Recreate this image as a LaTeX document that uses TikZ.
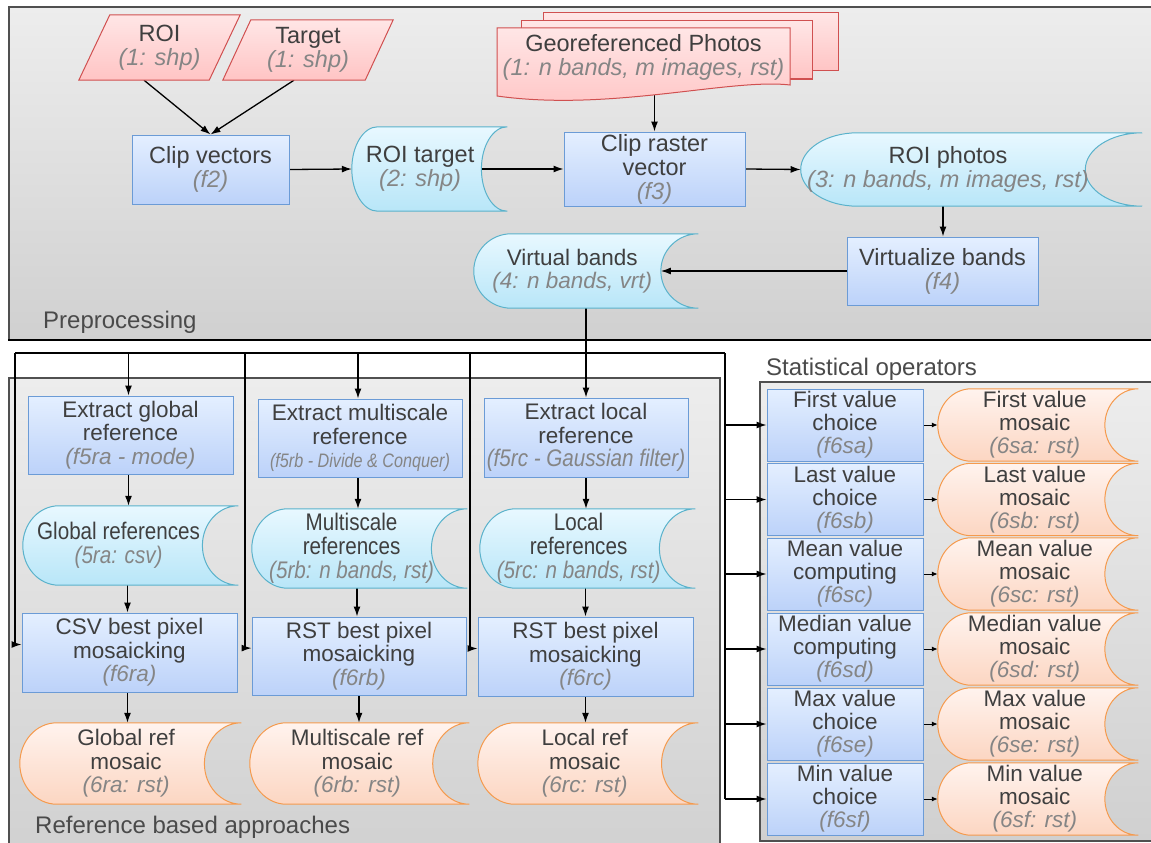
\documentclass[tikz,border=0pt]{standalone}
\usepackage{fontspec}
\setmainfont{Liberation Sans}
\usepackage{graphicx}
\usetikzlibrary{arrows.meta,calc}

\definecolor{txt}{HTML}{3F3F3F}
\definecolor{subtxt}{HTML}{858585}
\definecolor{lbltxt}{HTML}{4A4A4A}
\definecolor{panT}{HTML}{EDEDED}
\definecolor{panB}{HTML}{D0D0D0}
\definecolor{panline}{HTML}{505050}
\definecolor{procline}{HTML}{6B9BD6}
\definecolor{procT}{HTML}{E4EFFF}
\definecolor{procB}{HTML}{BCD2F9}
\definecolor{cyanline}{HTML}{5AB2CB}
\definecolor{cyanT}{HTML}{E8F8FF}
\definecolor{cyanB}{HTML}{B8E6F8}
\definecolor{orgline}{HTML}{F59A4D}
\definecolor{orgT}{HTML}{FFF3EE}
\definecolor{orgB}{HTML}{FCD6C2}
\definecolor{pinkline}{HTML}{D05050}
\definecolor{pinkT}{HTML}{FFE6E6}
\definecolor{pinkB}{HTML}{FFC4C4}

\pgfdeclarelayer{panel}
\pgfdeclarelayer{wires}
\pgfdeclarelayer{shapes}
\pgfsetlayers{panel,wires,shapes,main}

% function / format annotation under a title
\newcommand\fn[1]{{\color{subtxt}\itshape #1}}
% horizontally condensed text
\newcommand\cond[1]{\scalebox{0.86}[1]{#1}}
\newcommand\bigcond{\fontsize{24}{24}\selectfont}

% "stored data" outline: rounded left end, concave right end,
% drawn around a node whose width is the part left of the concave arc
\newcommand\sdshape[2]{%
  \path[#2] let \p1=(#1.north west), \p2=(#1.south east),
    \n1={(\x2-\x1)/5}, \n2={(\y1-\y2)/2} in
    (\x1+\n1,\y1) -- (\x2+\n1,\y1)
    arc[start angle=90,end angle=270,x radius=\n1,y radius=\n2]
    -- (\x1+\n1,\y2)
    arc[start angle=270,end angle=90,x radius=\n1,y radius=\n2] -- cycle;}

\begin{document}
\begin{tikzpicture}[x=1pt,y=-1pt,
  base/.style={align=center, text=txt, inner sep=0pt,
    font=\fontsize{22.5}{23.5}\selectfont},
  big/.style={font=\fontsize{23.5}{24}\selectfont},
  proc/.style={base, draw=procline, top color=procT, bottom color=procB, line width=1pt},
  textonly/.style={base},
  sdbox/.style={inner sep=0pt},
  cyanfill/.style={draw=cyanline, top color=cyanT, bottom color=cyanB, line width=1pt},
  orgfill/.style={draw=orgline, top color=orgT, bottom color=orgB, line width=1pt},
  pinkfill/.style={draw=pinkline, top color=pinkT, bottom color=pinkB, line width=1pt},
  lbl/.style={text=lbltxt, inner sep=0pt, font=\fontsize{24}{24}\selectfont},
  wire/.style={draw=black, line width=1.3pt},
  arr/.style={wire, -{Latex[length=10pt,width=7pt]}},
  sarr/.style={draw=black, line width=1pt, -{Latex[length=6pt,width=5pt]}},
]
\useasboundingbox (0,0) rectangle (1151,843);

% ---------- group panels ----------
\begin{pgfonlayer}{panel}
  \fill[white] (0,0) rectangle (1151,843);
  \shade[top color=panT, bottom color=panB] (9,7) rectangle (1170,340);
  \draw[panline, line width=1.4pt] (1170,7) -- (9,7) -- (9,340);
  \draw[black, line width=2pt] (8.3,340) -- (1170,340);
  \shade[top color=panT, bottom color=panB] (9,378) rectangle (720,870);
  \draw[panline, line width=1.3pt] (9,870) -- (9,378) -- (720,378) -- (720,870);
  \shade[top color=panT, bottom color=panB] (760,382) rectangle (1170,841);
  \draw[panline, line width=1.3pt] (1170,382) -- (760,382) -- (760,841) -- (1170,841);
\end{pgfonlayer}

% ---------- preprocessing ----------
\node[textonly, big, minimum width=130pt, minimum height=65pt] (roi) at (159.5,47.5) {ROI\\\fn{(1: shp)}};
\node[textonly, big, minimum width=142pt, minimum height=60pt] (tgt) at (308,50) {Target\\\fn{(1: shp)}};
\node[proc, big, minimum width=157pt, minimum height=69pt] (cv) at (210.5,169.5) {Clip vectors\\\fn{(f2)}};
\node[sdbox, minimum width=129.2pt, minimum height=84pt] (rt) at (416.6,169) {};
\node[textonly, big] (rtT) at ([xshift=3.5pt]rt.center) {ROI target\\\fn{(2: shp)}};
\node[textonly, big, minimum width=293pt, minimum height=58pt] (gp) at (643.5,57) {Georeferenced Photos\\\fn{(1: n bands, m images, rst)}};
\node[proc, big, minimum width=181pt, minimum height=74pt] (crv) at (654.5,169) {Clip raster\\vector\\\fn{(f3)}};
\node[sdbox, minimum width=284.2pt, minimum height=73pt] (rp) at (943,169.5) {};
\node[textonly, big] (rpT) at ([xshift=5pt]rp.center) {ROI photos\\\fn{(3: n bands, m images, rst)}};
\node[proc, big, minimum width=191pt, minimum height=68pt] (vz) at (942.5,271) {Virtualize bands\\\fn{(f4)}};
\node[sdbox, minimum width=186.7pt, minimum height=74pt] (vb) at (567.3,271) {};
\node[textonly] (vbT) at ([xshift=5pt]vb.center) {Virtual bands\\\fn{(4: n bands, vrt)}};

% ---------- reference based approaches ----------
\node[proc, minimum width=205pt, minimum height=78pt] (eg) at (130.5,435) {Extract global\\reference\\\fn{(f5ra - mode)}};
\node[sdbox, minimum width=179.2pt, minimum height=79pt] (gr) at (112.6,545.5) {};
\node[textonly, font=\bigcond] (grT) at ([xshift=6pt]gr.center) {\cond{Global references}\\\fn{\cond{(5ra: csv)}}};
\node[proc, minimum width=215pt, minimum height=79pt] (csv) at (129.5,652.5) {CSV best pixel\\mosaicking\\\fn{(f6ra)}};
\node[sdbox, minimum width=184.2pt, minimum height=81pt] (grm) at (112.1,763.5) {};
\node[textonly] (grmT) at ([xshift=14pt]grm.center) {Global ref\\mosaic\\\fn{(6ra: rst)}};

\node[proc, minimum width=204pt, minimum height=78pt] (em) at (360,438) {Extract multiscale\\reference\\{\fontsize{19.5}{21}\selectfont\fn{\scalebox{0.83}[1]{(f5rb - Divide \& Conquer)}}}};
\node[sdbox, minimum width=179.2pt, minimum height=79pt] (mr) at (341.6,548.5) {};
\node[textonly, font=\bigcond] (mrT) at ([xshift=10pt]mr.center) {\cond{Multiscale}\\\cond{references}\\\fn{\cond{(5rb: n bands, rst)}}};
\node[proc, minimum width=214pt, minimum height=78pt] (rstb) at (359,656) {RST best pixel\\mosaicking\\\fn{(f6rb)}};
\node[sdbox, minimum width=182.5pt, minimum height=81pt] (mm) at (341.25,763.5) {};
\node[textonly] (mmT) at ([xshift=16pt]mm.center) {Multiscale ref\\mosaic\\\fn{(6rb: rst)}};

\node[proc, minimum width=204pt, minimum height=79pt] (el) at (586,437.5) {Extract local\\reference\\{\bigcond\fn{\cond{(f5rc - Gaussian filter)}}}};
\node[sdbox, minimum width=179.2pt, minimum height=79pt] (lr) at (569.6,548.5) {};
\node[textonly, font=\bigcond] (lrT) at ([xshift=9pt]lr.center) {\cond{Local}\\\cond{references}\\\fn{\cond{(5rc: n bands, rst)}}};
\node[proc, minimum width=215pt, minimum height=79pt] (rstc) at (585.5,656.5) {RST best pixel\\mosaicking\\\fn{(f6rc)}};
\node[sdbox, minimum width=183.3pt, minimum height=81pt] (lm) at (569.7,763.5) {};
\node[textonly] (lmT) at ([xshift=15pt]lm.center) {Local ref\\mosaic\\\fn{(6rc: rst)}};

% ---------- statistical operators ----------
\foreach \nm/\yy/\ta/\tb/\code in {
    sa/425/First value/choice/sa,
    sb/499.5/Last value/choice/sb,
    sc/574/Mean value/computing/sc,
    sd/649/Median value/computing/sd,
    se/724/Max value/choice/se,
    sf/799/Min value/choice/sf}{
  \node[proc, font=\fontsize{22.5}{23}\selectfont, minimum width=156pt, minimum height=72pt]
    (\nm) at (845,\yy) {\ta\\\tb\\\fn{(f6\code)}};
  \node[sdbox, minimum width=166.7pt, minimum height=72pt] (\nm o) at (1021.3,\yy) {};
  \node[textonly, font=\fontsize{22.5}{23}\selectfont]
    (\nm oT) at ([xshift=13.5pt]\nm o.center) {\ta\\mosaic\\\fn{(6\code: rst)}};
}

% ---------- group titles ----------
\node[lbl, anchor=base west] (lpre) at (43,328) {Preprocessing};
\node[lbl, anchor=base west] (lref) at (35,833) {Reference based approaches};
\node[lbl, anchor=base west] (lstat) at (766,375) {Statistical operators};

% ---------- shapes behind the text nodes ----------
\begin{pgfonlayer}{shapes}
  \path[pinkfill] ([xshift=-15.5pt]roi.south west) -- ([xshift=-15.5pt]roi.south east)
    -- ([xshift=15.5pt]roi.north east) -- ([xshift=15.5pt]roi.north west) -- cycle;
  \path[pinkfill] ([xshift=-14pt]tgt.south west) -- ([xshift=-14pt]tgt.south east)
    -- ([xshift=14pt]tgt.north east) -- ([xshift=14pt]tgt.north west) -- cycle;
  % stack of photo documents
  \path[pinkfill] (543,13) rectangle (838,71);
  \path[pinkfill] (521,21) rectangle (812,79);
  \path[pinkfill] (497,28) -- (790,28) -- (790,85)
    .. controls (730,78) and (610,112) .. (497,96) -- cycle;
  \sdshape{rt}{cyanfill}
  \sdshape{rp}{cyanfill}
  \sdshape{vb}{cyanfill}
  \sdshape{gr}{cyanfill}
  \sdshape{mr}{cyanfill}
  \sdshape{lr}{cyanfill}
  \sdshape{grm}{orgfill}
  \sdshape{mm}{orgfill}
  \sdshape{lm}{orgfill}
  \foreach \nm in {sa,sb,sc,sd,se,sf}{\sdshape{\nm o}{orgfill}}
\end{pgfonlayer}

% ---------- connectors ----------
\coordinate (busL) at (15,353);
\coordinate (busR) at (725,353);
\coordinate (tapB) at (245,353);
\coordinate (tapC) at (470,353);
\begin{pgfonlayer}{wires}
  \draw[arr] ([xshift=-15.5pt]roi.south) -- (cv.north);
  \draw[arr] ([xshift=-14pt]tgt.south) -- (cv.north);
  \draw[arr] (cv.east) -- (rt.west);
  \draw[arr] (rt.east) -- (crv.west);
  \draw[arr] (crv.north |- gp.south) -- (crv.north);
  \draw[arr] (crv.east) -- (rp.west);
  \draw[arr] (rp.south) -- (rp.south |- vz.north);
  \draw[arr] (vz.west) -- (vb.east);
  % distribution of the virtual bands
  \draw[wire, line width=2.2pt] (el.north |- vb.south) -- (el.north |- busL);
  \draw[arr] (el.north |- busL) -- (el.north);
  \draw[wire, line width=1.5pt] (busL) -- (busR);
  \draw[arr] (busL) |- ($(csv.north west)!0.4!(csv.south west)$);
  \draw[arr] ([xshift=-2pt]eg.north |- busL) -- ([xshift=-2pt]eg.north);
  \draw[arr] (tapB) |- ($(rstb.north west)!0.4!(rstb.south west)$);
  \draw[arr] ([xshift=-2pt]em.north |- busL) -- ([xshift=-2pt]em.north);
  \draw[arr] (tapC) |- ($(rstc.north west)!0.4!(rstc.south west)$);
  \draw[wire, line width=1.5pt] (busR) -- (busR |- sf.west);
  \foreach \nm in {sa,sb,sc,sd,se,sf}{
    \draw[arr] (busR |- \nm.west) -- (\nm.west);
    \draw[sarr] (\nm.east) -- (\nm o.west);
  }
  % reference chains
  \draw[arr] ([xshift=-2pt]eg.south) -- ([xshift=-2pt]eg.south |- gr.north);
  \draw[arr] ([xshift=-2pt]csv.north |- gr.south) -- ([xshift=-2pt]csv.north);
  \draw[arr] ([xshift=-2pt]csv.south) -- ([xshift=-2pt]csv.south |- grm.north);
  \draw[arr] ([xshift=-2pt]em.south) -- ([xshift=-2pt]em.south |- mr.north);
  \draw[arr] ([xshift=-2pt]rstb.north |- mr.south) -- ([xshift=-2pt]rstb.north);
  \draw[arr] (rstb.south) -- (rstb.south |- mm.north);
  \draw[arr] (el.south) -- (el.south |- lr.north);
  \draw[arr] (rstc.north |- lr.south) -- (rstc.north);
  \draw[arr] (rstc.south) -- (rstc.south |- lm.north);
\end{pgfonlayer}
\end{tikzpicture}
\end{document}
